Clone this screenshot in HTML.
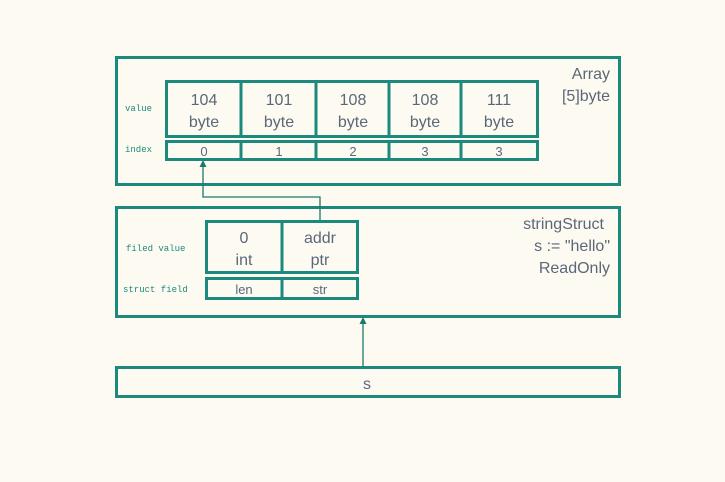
<!DOCTYPE html>
<html><head><style>body{margin:0;background:#fdfaf2;}svg{display:block}</style></head><body>
<svg width="725" height="482" xmlns="http://www.w3.org/2000/svg">
<rect width="725" height="482" fill="#fdfaf2"/>
<g fill="none" stroke="#1b8a7c" stroke-width="3">
<rect x="116.5" y="57.5" width="503" height="127"/>
<rect x="166.5" y="81.5" width="371" height="55"/>
<line x1="241" y1="81" x2="241" y2="137"/><line x1="316" y1="81" x2="316" y2="137"/><line x1="389" y1="81" x2="389" y2="137"/><line x1="461" y1="81" x2="461" y2="137"/>
<rect x="166.5" y="141.5" width="371" height="18"/>
<line x1="241" y1="141" x2="241" y2="160"/><line x1="316" y1="141" x2="316" y2="160"/><line x1="389" y1="141" x2="389" y2="160"/><line x1="461" y1="141" x2="461" y2="160"/>
<rect x="116.5" y="207.5" width="503" height="109"/>
<rect x="206.5" y="221.5" width="151" height="51"/>
<line x1="282" y1="221" x2="282" y2="273"/>
<rect x="206.5" y="278.5" width="151" height="20"/>
<line x1="282" y1="278" x2="282" y2="299"/>
<rect x="116.5" y="367.5" width="503" height="29"/>
</g>
<g fill="none" stroke="#1b7a6c" stroke-width="1.3">
<polyline points="320,220 320,197 203,197 203,164"/>
<line x1="363" y1="367" x2="363" y2="321"/>
</g>
<g fill="#1b7a6c"><polygon points="203,160 199.5,167 206.5,167"/><polygon points="363,317 359.5,324 366.5,324"/></g>
<g font-family="Liberation Mono, monospace" font-size="9" fill="#1b8a7c">
<text x="125" y="111">value</text><text x="125" y="152">index</text>
<text x="126" y="251">filed value</text><text x="123" y="292">struct field</text>
</g>
<g font-family="Liberation Sans, sans-serif" font-size="16" fill="#5a6878" text-anchor="middle">
<text x="204" y="105">104</text><text x="204" y="127">byte</text>
<text x="279" y="105">101</text><text x="279" y="127">byte</text>
<text x="353" y="105">108</text><text x="353" y="127">byte</text>
<text x="425" y="105">108</text><text x="425" y="127">byte</text>
<text x="499" y="105">111</text><text x="499" y="127">byte</text>
<text x="244" y="243">0</text><text x="244" y="265">int</text>
<text x="320" y="243">addr</text><text x="320" y="265">ptr</text>
<text x="367" y="389">s</text>
</g>
<g font-family="Liberation Sans, sans-serif" font-size="13" fill="#5a6878" text-anchor="middle">
<text x="204" y="156">0</text><text x="279" y="156">1</text><text x="353" y="156">2</text><text x="425" y="156">3</text><text x="499" y="156">3</text>
<text x="244" y="294">len</text><text x="320" y="294">str</text>
</g>
<g font-family="Liberation Sans, sans-serif" font-size="16" fill="#5a6878" text-anchor="end">
<text x="610" y="79">Array</text><text x="610" y="101">[5]byte</text>
<text x="604" y="229">stringStruct</text><text x="610" y="251">s := "hello"</text><text x="610" y="273">ReadOnly</text>
</g>
</svg>
</body></html>
